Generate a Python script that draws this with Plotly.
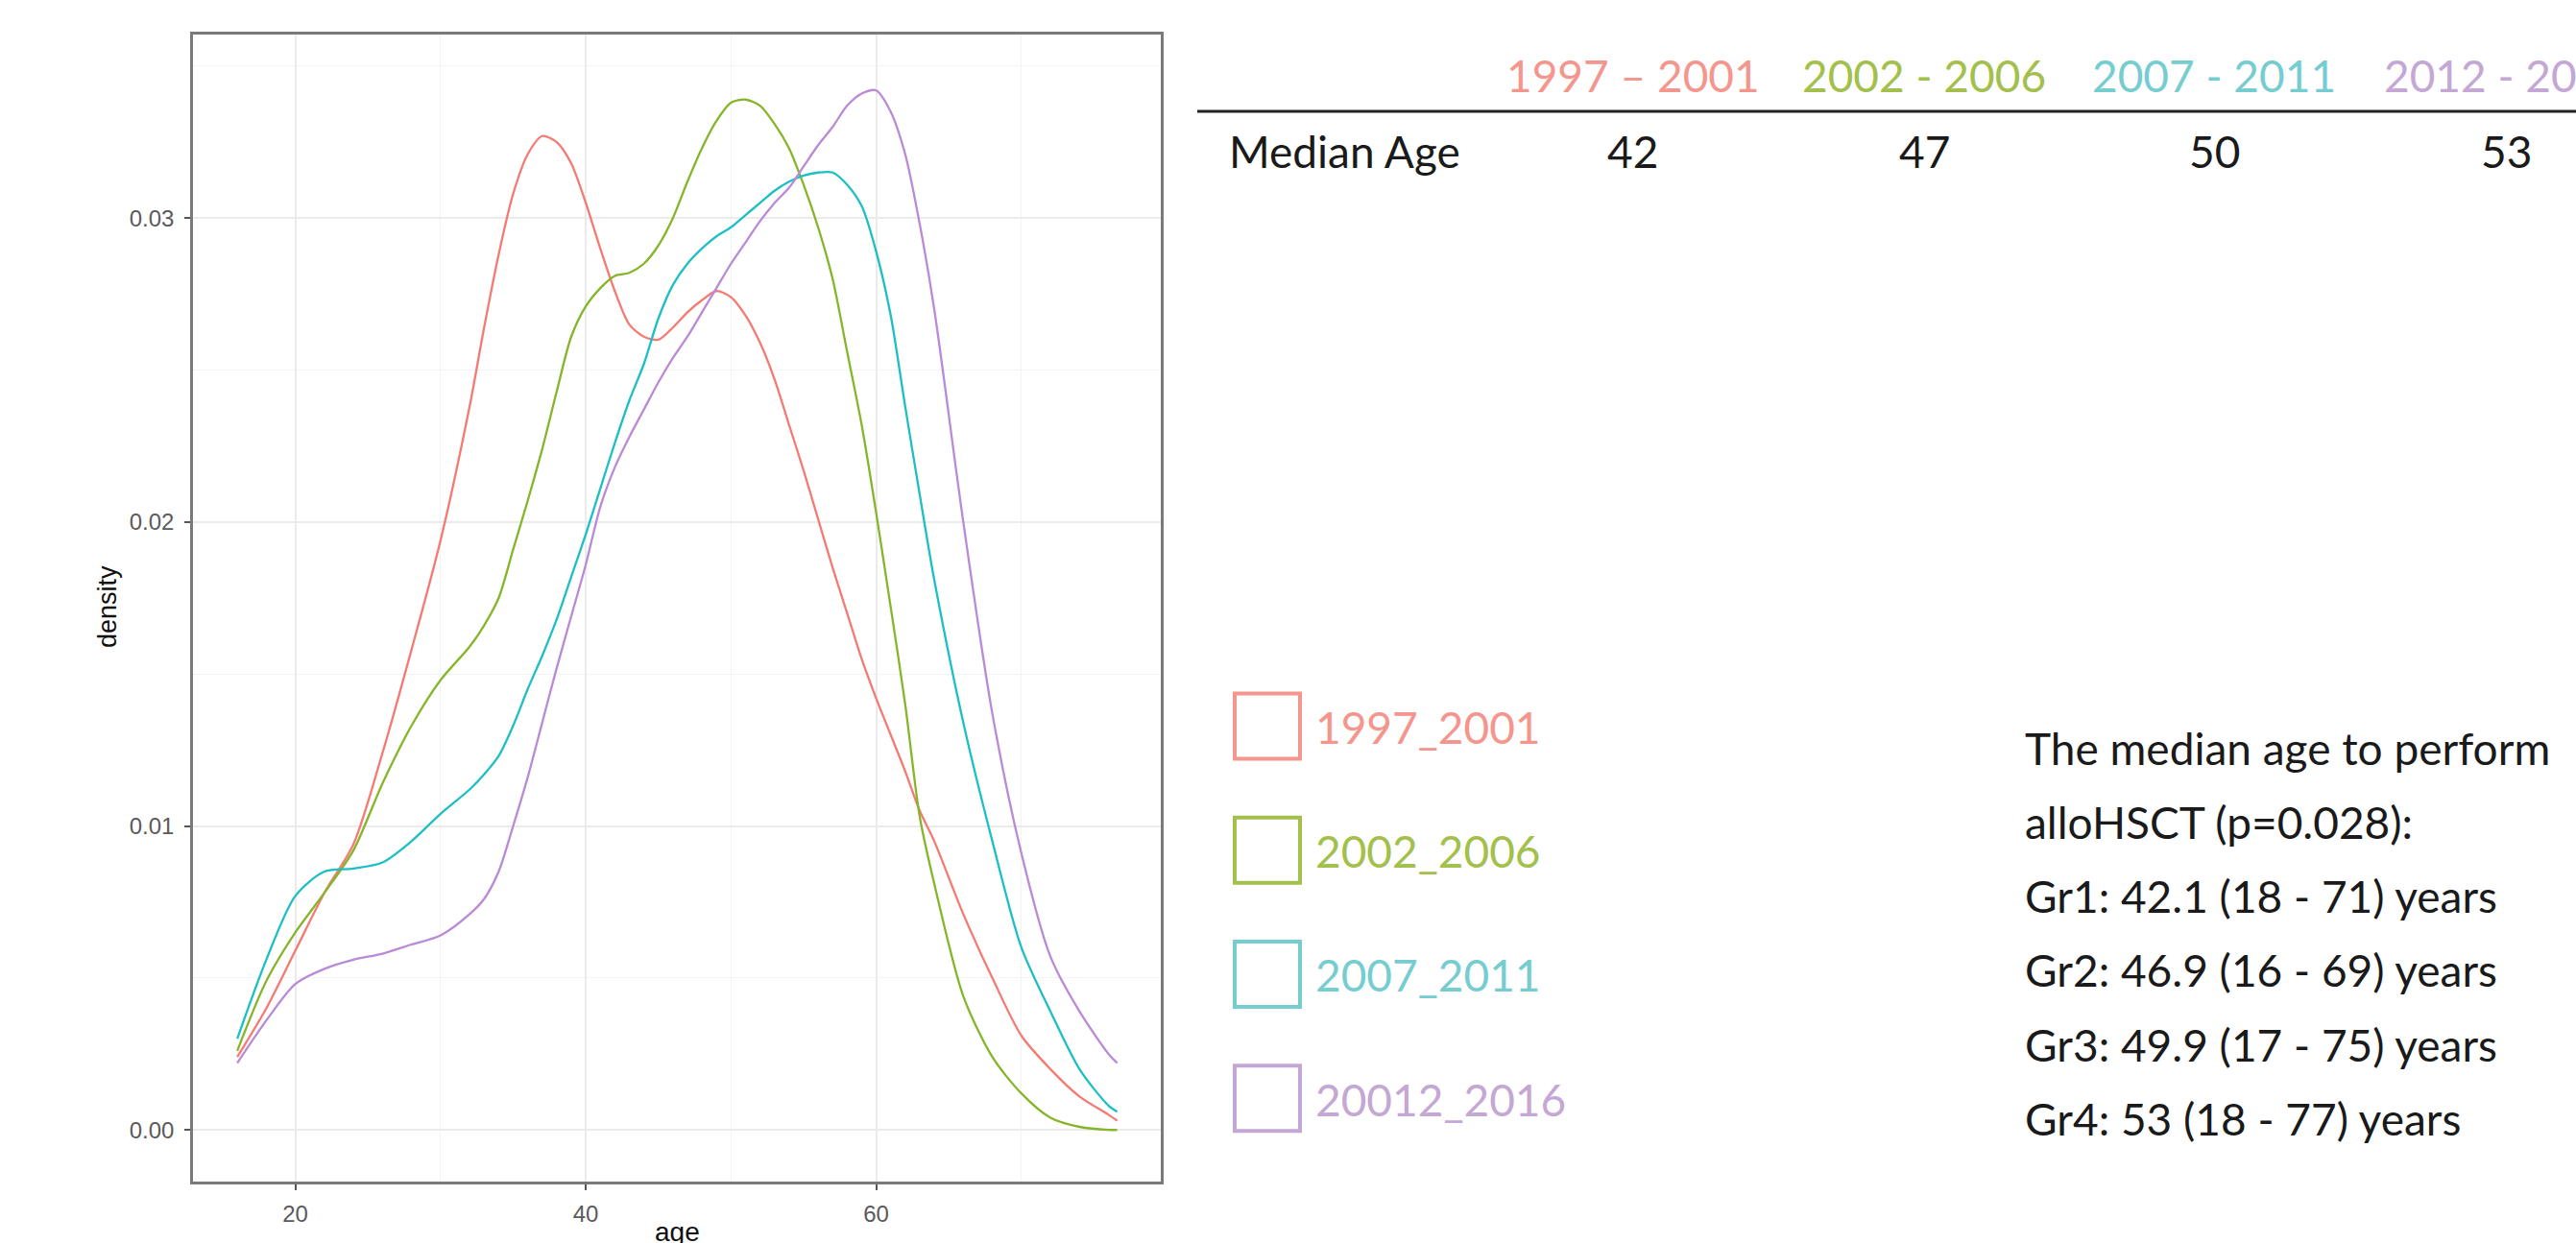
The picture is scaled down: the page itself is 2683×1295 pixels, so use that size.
import plotly.graph_objects as go

# ---- data -------------------------------------------------------------
ages = [16, 18, 20, 22, 24, 26, 28, 30, 32,
        33, 34, 35, 36, 37, 38, 39, 40, 41, 42, 43, 44, 45, 46, 47, 48,
        49, 50, 51, 52, 53, 54, 55, 56, 57, 58, 59, 60, 61, 62, 63, 64,
        66, 68, 70, 72, 74, 76, 76.6]

dens_1997_2001 = [0.0024, 0.0040, 0.0059, 0.0078, 0.0094, 0.0124, 0.0158, 0.0194, 0.0238,
                  0.0264, 0.0288, 0.0308, 0.0321, 0.0327, 0.0325, 0.0318, 0.0305, 0.0290,
                  0.0276, 0.0265, 0.0261, 0.0260, 0.0264, 0.0269, 0.0273, 0.0276, 0.0274,
                  0.0268, 0.0259, 0.0247, 0.0232, 0.0217, 0.0201, 0.0185, 0.0170, 0.0155,
                  0.0142, 0.0130, 0.0118, 0.0105, 0.0095,
                  0.0071, 0.0050, 0.0031, 0.0020, 0.0011, 0.0005, 0.0003]
dens_2002_2006 = [0.0026, 0.0049, 0.0065, 0.0078, 0.0092, 0.0114, 0.0133, 0.0148, 0.0159,
                  0.0166, 0.0175, 0.0191, 0.0207, 0.0224, 0.0243, 0.0261, 0.0271, 0.0277,
                  0.0281, 0.0282, 0.0285, 0.0291, 0.0300, 0.0312, 0.0323, 0.0332, 0.0338,
                  0.0339, 0.0337, 0.0331, 0.0323, 0.0311, 0.0297, 0.0280, 0.0256, 0.0232,
                  0.0203, 0.0172, 0.0140, 0.0103, 0.0081,
                  0.0044, 0.0024, 0.0012, 0.0004, 0.0001, 0.0000, 0.0000]
dens_2007_2011 = [0.0030, 0.0056, 0.0077, 0.0085, 0.0086, 0.0088, 0.0095, 0.0104, 0.0112,
                  0.0117, 0.0123, 0.0133, 0.0145, 0.0156, 0.0168, 0.0182, 0.0196, 0.0211,
                  0.0226, 0.0240, 0.0252, 0.0267, 0.0278, 0.0285, 0.0290, 0.0294, 0.0297,
                  0.0301, 0.0305, 0.0309, 0.0312, 0.0314, 0.0315, 0.0315, 0.0311, 0.0304,
                  0.0289, 0.0268, 0.0238, 0.0209, 0.0181,
                  0.0134, 0.0095, 0.0060, 0.0039, 0.0020, 0.0008, 0.0006]
dens_2012_2016 = [0.0022, 0.0036, 0.0048, 0.0053, 0.0056, 0.0058, 0.0061, 0.0064, 0.0071,
                  0.0076, 0.0085, 0.0100, 0.0116, 0.0134, 0.0152, 0.0169, 0.0186, 0.0205,
                  0.0218, 0.0228, 0.0237, 0.0246, 0.0254, 0.0261, 0.0269, 0.0277, 0.0285,
                  0.0292, 0.0299, 0.0305, 0.0310, 0.0317, 0.0324, 0.0330, 0.0337, 0.0341,
                  0.0342, 0.0335, 0.0321, 0.0298, 0.0270,
                  0.0200, 0.0137, 0.0091, 0.0057, 0.0039, 0.0025, 0.0022]

legend_labels = ["1997_2001", "2002_2006", "2007_2011", "20012_2016"]
period_headers = ["1997 \u2013 2001", "2002 - 2006", "2007 - 2011", "2012 - 2016"]
median_ages = [42, 47, 50, 53]
summary_lines = [
    "The median age to perform",
    "alloHSCT (p=0.028):",
    "Gr1: 42.1 (18 - 71) years",
    "Gr2: 46.9 (16 - 69) years",
    "Gr3: 49.9 (17 - 75) years",
    "Gr4: 53 (18 - 77) years",
]

# ---- styling ----------------------------------------------------------
W, H = 2683, 1295
line_colors = ["#F47A72", "#86B52A", "#1DBFC4", "#B98AD6"]
text_colors = ["#F4958E", "#A2C04B", "#76CDD0", "#C4A7D5"]
TXT_FONT = "Lato, 'Noto Sans', sans-serif"
GG_FONT = "'Liberation Sans', Arial, sans-serif"


def px(x):
    return x / W


def py(y):
    return 1 - y / H


fig = go.Figure()
series = [dens_1997_2001, dens_2002_2006, dens_2007_2011, dens_2012_2016]
for name, vals, col in zip(legend_labels, series, line_colors):
    fig.add_trace(go.Scatter(
        x=ages, y=vals, mode="lines", name=name,
        line=dict(color=col, width=2.3, shape="spline", smoothing=0.8),
        showlegend=False, hoverinfo="skip",
    ))

# plot panel position (pixels)
p_left, p_right, p_top, p_bottom = 201, 1209, 36, 1231

fig.update_layout(
    width=W, height=H,
    margin=dict(l=0, r=0, t=0, b=0, pad=0),
    paper_bgcolor="white", plot_bgcolor="white",
    xaxis=dict(
        domain=[px(p_left), px(p_right)],
        range=[12.95, 79.6], tickmode="linear", tick0=0, dtick=20,
        showgrid=True, gridcolor="#EBEBEB", gridwidth=2.2,
        minor=dict(dtick=10, tick0=0, showgrid=True, gridcolor="#F3F3F3", gridwidth=1.4),
        zeroline=False,
        showline=True, mirror=True, linecolor="#7A7A7A", linewidth=2.5,
        ticks="outside", ticklen=6, tickwidth=2, tickcolor="#555555",
        tickfont=dict(family=GG_FONT, size=24, color="#5A5A5A"),
        ticklabelstandoff=4,
    ),
    yaxis=dict(
        domain=[py(p_bottom), py(p_top)],
        range=[-0.0017, 0.03604], tickmode="linear", tick0=0, dtick=0.01,
        tickformat=".2f",
        showgrid=True, gridcolor="#EBEBEB", gridwidth=2.2,
        minor=dict(dtick=0.005, tick0=0, showgrid=True, gridcolor="#F3F3F3", gridwidth=1.4),
        zeroline=False,
        showline=True, mirror=True, linecolor="#7A7A7A", linewidth=2.5,
        ticks="outside", ticklen=6, tickwidth=2, tickcolor="#555555",
        tickfont=dict(family=GG_FONT, size=24, color="#5A5A5A"),
        ticklabelstandoff=6,
    ),
)

annotations = []
shapes = []

# axis titles
annotations.append(dict(
    text="density", x=px(112), y=py(632), xref="paper", yref="paper",
    xanchor="center", yanchor="middle", textangle=-90, showarrow=False,
    font=dict(family=GG_FONT, size=27, color="#111111"),
))
annotations.append(dict(
    text="age", x=px(705), y=py(1266), xref="paper", yref="paper",
    xanchor="center", yanchor="top", showarrow=False,
    font=dict(family=GG_FONT, size=28, color="#111111"),
))

# median-age table
col_x = [1701, 2004, 2306, 2610]
for cx, hdr, col in zip(col_x, period_headers, text_colors):
    annotations.append(dict(
        text=hdr, x=px(cx), y=py(78), xref="paper", yref="paper",
        xanchor="center", yanchor="middle", showarrow=False,
        font=dict(family=TXT_FONT, size=46, color=col),
    ))
shapes.append(dict(
    type="line", xref="paper", yref="paper",
    x0=px(1247), x1=px(W + 5), y0=py(116), y1=py(116),
    line=dict(color="#222222", width=3),
))
annotations.append(dict(
    text="Median Age", x=px(1278), y=py(157), xref="paper", yref="paper",
    xanchor="left", yanchor="middle", showarrow=False,
    font=dict(family=TXT_FONT, size=46, color="#1A1A1A"),
))
for cx, med in zip(col_x, median_ages):
    annotations.append(dict(
        text=str(med), x=px(cx), y=py(157), xref="paper", yref="paper",
        xanchor="center", yanchor="middle", showarrow=False,
        font=dict(family=TXT_FONT, size=46, color="#1A1A1A"),
    ))

# legend: hollow squares with coloured labels
box_centers = [756.6, 885.7, 1014.9, 1144.3]
for cy, lab, col in zip(box_centers, legend_labels, text_colors):
    shapes.append(dict(
        type="rect", xref="paper", yref="paper",
        x0=px(1286), x1=px(1354), y0=py(cy + 34), y1=py(cy - 34),
        line=dict(color=col, width=4), fillcolor="rgba(0,0,0,0)",
    ))
    annotations.append(dict(
        text=lab, x=px(1368), y=py(cy + 1), xref="paper", yref="paper",
        xanchor="left", yanchor="middle", showarrow=False,
        font=dict(family=TXT_FONT, size=46, color=col),
    ))

# summary statistics text
line_centers = [779, 856, 933, 1010, 1088, 1165]
for cy, txt in zip(line_centers, summary_lines):
    annotations.append(dict(
        text=txt, x=px(2107), y=py(cy), xref="paper", yref="paper",
        xanchor="left", yanchor="middle", showarrow=False,
        font=dict(family=TXT_FONT, size=46, color="#1A1A1A"),
    ))

fig.update_layout(annotations=annotations, shapes=shapes)
fig.write_html("out.html")
